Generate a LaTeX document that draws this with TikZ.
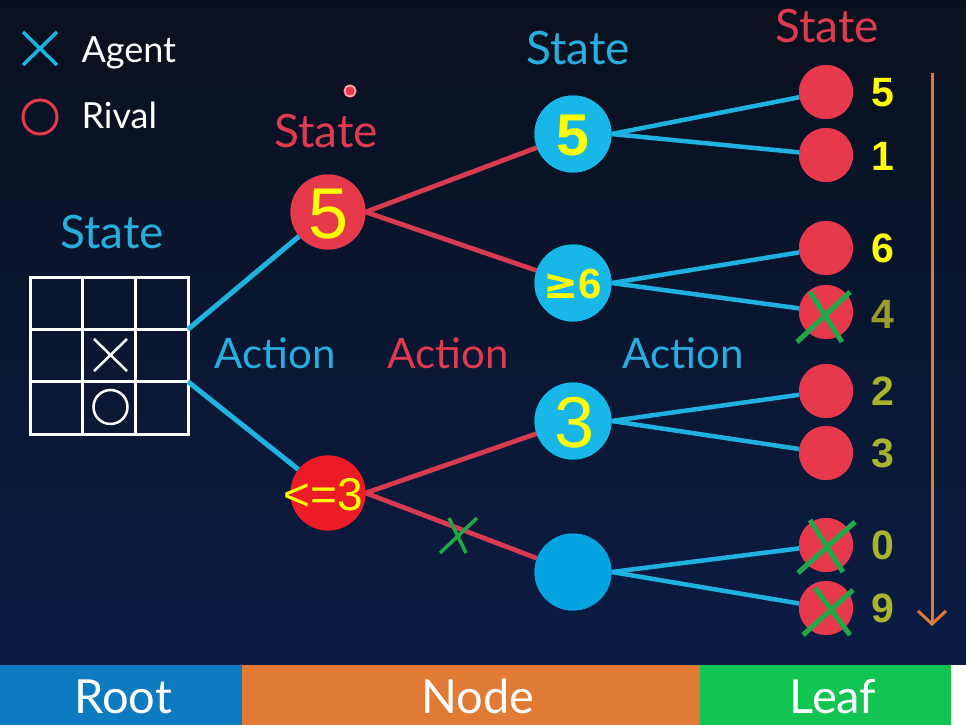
\documentclass[tikz,border=0pt]{standalone}
\usepackage{fontspec}
\setmainfont{Lato}
\newfontfamily\digfont{Liberation Sans}
\newfontfamily\symfont{DejaVu Sans}
\usetikzlibrary{arrows.meta}
\definecolor{bgtop}{HTML}{0A111E}
\definecolor{bgbot}{HTML}{0B1C44}
\definecolor{cyannode}{HTML}{17B8E8}
\definecolor{cyannodeB}{HTML}{03A3E2}
\definecolor{cyanline}{HTML}{1FB2E0}
\definecolor{cyantext}{HTML}{27AEDF}
\definecolor{rednode}{HTML}{E6394C}
\definecolor{rednodeB}{HTML}{EC1C26}
\definecolor{redline}{HTML}{D83A52}
\definecolor{redtext}{HTML}{E03A50}
\definecolor{yel}{HTML}{FFFF00}
\definecolor{olive}{HTML}{A8B52C}
\definecolor{olivedim}{HTML}{9C9C28}
\definecolor{greenx}{HTML}{20A848}
\definecolor{rootbar}{HTML}{0C7BBF}
\definecolor{nodebar}{HTML}{E07A34}
\definecolor{leafbar}{HTML}{12C452}
\definecolor{arroworange}{HTML}{E07A34}
\tikzset{
  bluelink/.style={draw=cyanline, line width=5pt},
  redlink/.style={draw=redline, line width=4.8pt},
  rnode/.style={circle, fill=rednode, minimum size=75pt, inner sep=0pt},
  bnode/.style={circle, fill=cyannode, minimum size=77pt, inner sep=0pt},
  leafnode/.style={circle, fill=rednode, minimum size=54pt, inner sep=0pt},
  leafval/.style={font=\digfont\bfseries\fontsize{41}{41}\selectfont, anchor=center},
  bigtxt/.style={font=\fontsize{46}{46}\selectfont, anchor=base},
  acttxt/.style={font=\fontsize{42}{42}\selectfont, anchor=base},
  legtxt/.style={font=\fontsize{36}{36}\selectfont, anchor=base west, text=white},
  bartxt/.style={font=\fontsize{47}{47}\selectfont, anchor=base, text=white},
  crossmark/.style={draw=greenx, line width=5pt},
  gridline/.style={draw=white, line width=3pt},
}
\begin{document}
\begin{tikzpicture}[x=1pt,y=-1pt]
\useasboundingbox (0,0) rectangle (966,725);
% background
\shade[top color=bgtop, bottom color=bgbot] (0,0) rectangle (966,666);
% bottom bar
\fill[rootbar] (0,665) rectangle (242,725);
\fill[nodebar] (242,665) rectangle (700,725);
\fill[leafbar] (700,665) rectangle (951,725);
\fill[white] (951,665) rectangle (966,725);
\node[bartxt] (barroot) at (123,713) {Root};
\node[bartxt] (barnode) at (478,713) {Node};
\node[bartxt] (barleaf) at (833,713) {Leaf};

% legend
\draw[draw=cyanline, line width=3.5pt] (23,32) -- (57,65) (57,32) -- (23,65);
\node[legtxt] (agent) at (78,63) {Agent};
\draw[draw=rednode, line width=3pt] (40,117) circle (17);
\node[legtxt] (rival) at (78,128) {Rival};

% small dot
\fill[rednode] (350,91) circle (6.5);
\draw[draw=white!60!rednode, line width=1.5pt] (350,91) circle (5.5);

% root grid
\node[draw=white, line width=3pt, minimum width=158pt, minimum height=157pt, inner sep=0pt] (root) at (109,355.5) {};
\draw[gridline] (82.7,277) -- (82.7,434) (135.3,277) -- (135.3,434)
                (30,329.3) -- (188,329.3) (30,381.7) -- (188,381.7);
\draw[draw=white, line width=2.5pt] (94,339) -- (127,371) (127,339) -- (94,371);
\draw[draw=white, line width=2.5pt] (110.5,407) circle (17);
\coordinate (rootA) at (188,329.3);
\coordinate (rootB) at (188,381.7);

% nodes
\node[rnode] (r5) at (328,212) {};
\node[rnode, fill=rednodeB] (r3) at (328,493) {};
\node[bnode] (b5) at (573,134) {};
\node[bnode] (b6) at (573,283) {};
\node[bnode] (b3) at (573,421) {};
\node[bnode, fill=cyannodeB] (b0) at (573,572) {};

\node[leafnode] (l1) at (826,92) {};
\node[leafnode] (l2) at (826,155) {};
\node[leafnode] (l3) at (826,248) {};
\node[leafnode] (l4) at (826,312) {};
\node[leafnode] (l5) at (826,391) {};
\node[leafnode] (l6) at (826,453) {};
\node[leafnode] (l7) at (826,545) {};
\node[leafnode] (l8) at (826,608) {};

% edges
\path[bluelink] (rootA) -- (r5);
\path[bluelink] (rootB) -- (r3);
\path[redlink] (r5.east) -- (b5);
\path[redlink] (r5.east) -- (b6);
\path[redlink] (r3.east) -- (b3);
\path[redlink] (r3.east) -- (b0);
\path[bluelink, line width=4.5pt] (b5.east) -- (l1);
\path[bluelink, line width=4.5pt] (b5.east) -- (l2);
\path[bluelink, line width=4.5pt] (b6.east) -- (l3);
\path[bluelink, line width=4.5pt] (b6.east) -- (l4);
\path[bluelink, line width=4.5pt] (b3.east) -- (l5);
\path[bluelink, line width=4.5pt] (b3.east) -- (l6);
\path[bluelink, line width=4.5pt] (b0.east) -- (l7);
\path[bluelink, line width=4.5pt] (b0.east) -- (l8);

% redraw nodes on top of edges
\node[rnode] at (r5) {};
\node[rnode, fill=rednodeB] at (r3) {};
\node[bnode] at (b5) {};
\node[bnode] at (b6) {};
\node[bnode] at (b3) {};
\node[bnode, fill=cyannodeB] at (b0) {};
\foreach \l in {l1,l2,l3,l4,l5,l6,l7,l8} { \node[leafnode] at (\l) {}; }

% node values
\node[text=yel, font=\digfont\fontsize{72}{72}\selectfont] (r5t) at (329,214) {5};
\node[text=yel, font=\digfont\fontsize{46}{46}\selectfont] (r3t) at (323,495) {<=3};
\node[text=yel, font=\digfont\bfseries\fontsize{59}{59}\selectfont] (b5t) at (573,135) {5};
\node[text=yel, font=\digfont\bfseries\fontsize{42}{42}\selectfont] (b6t) at (573,284) {{\symfont\bfseries ≥}6};
\node[text=yel, font=\digfont\fontsize{72}{72}\selectfont] (b3t) at (575,423) {3};

% leaf values
\node[leafval, text=yel] (v1) at (883,93) {5};
\node[leafval, text=yel] (v2) at (883,156) {1};
\node[leafval, text=yel] (v3) at (883,248) {6};
\node[leafval, text=olivedim] (v4) at (883,314) {4};
\node[leafval, text=olive] (v5) at (883,391) {2};
\node[leafval, text=olive] (v6) at (883,453) {3};
\node[leafval, text=olive] (v7) at (883,545) {0};
\node[leafval, text=olive] (v8) at (883,608) {9};

% prune crosses
\draw[crossmark] ([shift={(24,-20)}]l4.center) -- ([shift={(-29,30)}]l4.center)
                 ([shift={(-16,-20)}]l4.center) -- ([shift={(16,30)}]l4.center);
\draw[crossmark] ([shift={(29,-23)}]l7.center) -- ([shift={(-28,28)}]l7.center)
                 ([shift={(-16,-25)}]l7.center) -- ([shift={(17,27)}]l7.center);
\draw[crossmark] ([shift={(27,-18)}]l8.center) -- ([shift={(-23,27)}]l8.center)
                 ([shift={(-11,-20)}]l8.center) -- ([shift={(24,27)}]l8.center);
\coordinate (cutx) at (458,535);
\draw[draw=greenx, line width=3.5pt] ([shift={(19,-17)}]cutx) -- ([shift={(-18,18)}]cutx)
                 ([shift={(-9,-17)}]cutx) -- ([shift={(8,18)}]cutx);

% orange arrow
\coordinate (arrtop) at (932,73);
\coordinate (arrbot) at (932,626);
\draw[draw=arroworange, line width=3pt, -{Straight Barb[length=13pt, width=28pt, line width=3pt]}] (arrtop) -- (arrbot);

% labels
\node[bigtxt, text=cyantext] (s0) at (112,248) {State};
\node[bigtxt, text=redtext] (s1) at (326,147) {State};
\node[bigtxt, text=cyantext] (s2) at (578,65) {State};
\node[bigtxt, text=redtext] (s3) at (827,43) {State};
\node[acttxt, text=cyantext] (a1) at (275,368) {Action};
\node[acttxt, text=redtext] (a2) at (448,368) {Action};
\node[acttxt, text=cyantext] (a3) at (683,368) {Action};
\end{tikzpicture}
\end{document}
